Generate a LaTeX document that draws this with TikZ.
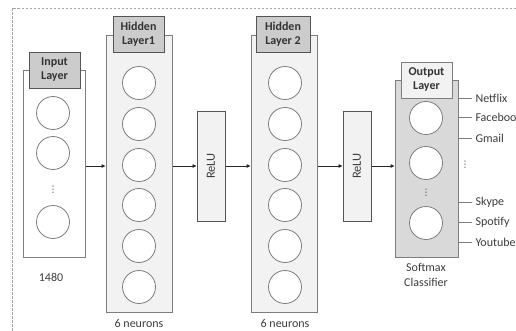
\documentclass[tikz,border=0pt]{standalone}
\usepackage{fontspec}
\setmainfont{Carlito}
\newfontfamily\dotsfont{DejaVu Sans}
\definecolor{framegray}{RGB}{165,165,165}
\definecolor{edgegray}{RGB}{125,125,125}
\definecolor{headedge}{RGB}{85,85,85}
\definecolor{headgray}{RGB}{204,204,204}
\definecolor{hiddenbg}{RGB}{242,242,242}
\definecolor{outbg}{RGB}{217,217,217}
\definecolor{textgray}{RGB}{60,60,60}
\usetikzlibrary{arrows.meta, positioning}

\tikzset{
  layerbox/.style={draw=edgegray, line width=1pt, inner sep=0pt},
  headbox/.style={draw=headedge, line width=1pt, fill=headgray, minimum width=51pt, minimum height=36pt, inner sep=0pt, align=center, text=black!80, font=\fontsize{12}{14}\selectfont\bfseries},
  neuron/.style={circle, draw=edgegray, line width=0.8pt, fill=white, minimum size=33pt, inner sep=0pt},
  relubox/.style={draw=headedge, line width=1pt, fill=hiddenbg, minimum width=110pt, minimum height=28pt, inner sep=0pt, rotate=90, text=textgray, font=\fontsize{12.5}{14}\selectfont},
  lbl/.style={align=center, text=textgray, font=\fontsize{12}{14.5}\selectfont},
  dotsmark/.style={text=textgray, inner sep=0pt, font=\fontsize{9}{11}\dotsfont},
  flow/.style={-{Triangle[length=4pt,width=3.5pt]}, line width=0.8pt, black!85},
}

\begin{document}
\begin{tikzpicture}[x=1pt, y=-1pt]
  \useasboundingbox (0,0) rectangle (516,330);

  % Frame
  \draw[framegray, line width=1pt, dash pattern=on 2.5pt off 1.5pt] (540,8) -- (12,8) -- (12,350);

  % Input layer
  \node[layerbox, fill=white, minimum width=62pt, minimum height=187pt] (in) at (54,163.5) {};
  \node[headbox] (inhead) at (54.5,70) {Input\\Layer};
  \node[neuron] (in1) at (53,113) {};
  \node[neuron] (in2) at (53,153) {};
  \node[dotsmark] (indots) at (53,190) {⋮};
  \node[neuron] (in3) at (53,222) {};
  \node[lbl] (insize) at (51,277) {1480};

  % Hidden layer 1
  \node[layerbox, fill=hiddenbg, minimum width=66pt, minimum height=277pt] (h1) at (139,173.5) {};
  \node[headbox] (h1head) at (138.5,34.5) {Hidden\\Layer1};
  \node[neuron] (h1a) at (139,83) {};
  \node[neuron] (h1b) at (139,124) {};
  \node[neuron] (h1c) at (139,165) {};
  \node[neuron] (h1d) at (139,205) {};
  \node[neuron] (h1e) at (139,246) {};
  \node[neuron] (h1f) at (139,287) {};
  \node[lbl] (h1size) at (139,323) {6 neurons};

  % ReLU 1
  \node[relubox] (r1) at (211,166) {ReLU};

  % Hidden layer 2
  \node[layerbox, fill=hiddenbg, minimum width=66pt, minimum height=277pt] (h2) at (284,173.5) {};
  \node[headbox, minimum width=54pt] (h2head) at (283,34.5) {Hidden\\Layer 2};
  \node[neuron] (h2a) at (285,83) {};
  \node[neuron] (h2b) at (285,124) {};
  \node[neuron] (h2c) at (285,165) {};
  \node[neuron] (h2d) at (285,205) {};
  \node[neuron] (h2e) at (285,246) {};
  \node[neuron] (h2f) at (285,287) {};
  \node[lbl] (h2size) at (285,323) {6 neurons};

  % ReLU 2
  \node[relubox] (r2) at (357,166) {ReLU};

  % Output layer
  \node[layerbox, fill=outbg, minimum width=63pt, minimum height=177pt] (out) at (426.5,168.5) {};
  \node[headbox, fill=hiddenbg, draw=edgegray] (outhead) at (426.5,80) {Output\\Layer};
  \node[neuron] (out1) at (426,118) {};
  \node[neuron] (out2) at (426,163) {};
  \node[dotsmark] (outdots) at (426,193) {⋮};
  \node[neuron] (out3) at (426,223) {};
  \node[lbl] (softmax) at (426,275) {Softmax\\Classifier};

  % Classes
  \node[lbl, anchor=west] (netflix) at (472,98) {Netflix};
  \node[lbl, anchor=west] (facebook) at (472,117) {Facebook};
  \node[lbl, anchor=west] (gmail) at (472,138) {Gmail};
  \node[dotsmark] (classdots) at (465,165) {⋮};
  \node[lbl, anchor=west] (skype) at (472,202) {Skype};
  \node[lbl, anchor=west] (spotify) at (472,222) {Spotify};
  \node[lbl, anchor=west] (youtube) at (472,242) {Youtube};
  \draw[edgegray, line width=0.8pt] (out.east |- netflix.west) -- (netflix.west);
  \draw[edgegray, line width=0.8pt] (out.east |- facebook.west) -- (facebook.west);
  \draw[edgegray, line width=0.8pt] (out.east |- gmail.west) -- (gmail.west);
  \draw[edgegray, line width=0.8pt] (out.east |- skype.west) -- (skype.west);
  \draw[edgegray, line width=0.8pt] (out.east |- spotify.west) -- (spotify.west);
  \draw[edgegray, line width=0.8pt] (out.east |- youtube.west) -- (youtube.west);

  % Connections
  \draw[flow] (in.east |- r1) -- (h1.west |- r1);
  \draw[flow] (h1.east |- r1) -- (r1.north);
  \draw[flow] (r1.south) -- (h2.west |- r1);
  \draw[flow] (h2.east |- r2) -- (r2.north);
  \draw[flow] (r2.south) -- (out.west |- r2);
\end{tikzpicture}
\end{document}
